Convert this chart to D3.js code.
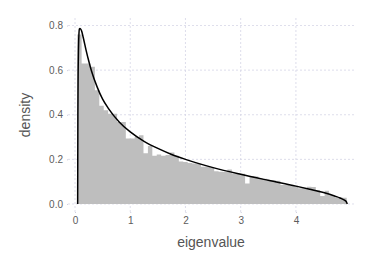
<!DOCTYPE html>
<html>
<head>
<meta charset="utf-8">
<script src="https://cdn.jsdelivr.net/npm/d3@7"></script>
<style>
  body { margin: 0; background: #fff; }
  text { font-family: Helvetica, Arial, "Liberation Sans", sans-serif; }
</style>
</head>
<body>
<svg id="chart"></svg>
<script>
// histogram of eigenvalues: bins of width 0.08 starting at 0.04
var binStart = 0.04,
	binWidth = 0.08;
var binDensity = [
	0.76, 0.63, 0.63, 0.615, 0.51, 0.44, 0.42, 0.405, 0.405, 0.368,
	0.368, 0.294, 0.294, 0.30, 0.308, 0.227, 0.26, 0.216, 0.222, 0.216,
	0.22, 0.231, 0.216, 0.19, 0.188, 0.184, 0.182, 0.18, 0.167, 0.167,
	0.165, 0.147, 0.145, 0.143, 0.155, 0.137, 0.137, 0.135, 0.092, 0.125,
	0.123, 0.115, 0.113, 0.107, 0.106, 0.104, 0.085, 0.085, 0.083, 0.082,
	0.07, 0.07, 0.077, 0.076, 0.063, 0.036, 0.059, 0.04, 0.033, 0.03,
	0.028
];

// theoretical density curve
var curveX = [0.048, 0.052, 0.056, 0.062, 0.07, 0.08, 0.09, 0.1, 0.12, 0.15,
	0.2, 0.25, 0.3, 0.4, 0.5, 0.6, 0.8, 1.0, 1.25, 1.5,
	1.75, 2.0, 2.5, 3.0, 3.5, 4.0, 4.25, 4.5, 4.7, 4.8,
	4.88, 4.91, 4.93];
var curveY = [0, 0.40, 0.57, 0.68, 0.755, 0.785, 0.787, 0.785, 0.775, 0.745,
	0.69, 0.64, 0.595, 0.525, 0.47, 0.43, 0.368, 0.323, 0.281, 0.249,
	0.222, 0.2, 0.163, 0.133, 0.106, 0.080, 0.066, 0.051, 0.036, 0.027,
	0.017, 0.011, 0];

var xTicks = [0, 1, 2, 3, 4],
	yTicks = [0, 0.2, 0.4, 0.6, 0.8];

var width = 374,
	height = 280;
var svg = d3.select("#chart")
	.attr("width", width)
	.attr("height", height);

var x = d3.scaleLinear().domain([-0.127, 5.07]).range([68, 355]);
var y = d3.scaleLinear().domain([-0.036, 0.836]).range([212, 17.5]);

var grid = svg.append("g")
	.attr("stroke", "#d6d6e6")
	.attr("stroke-width", 0.8)
	.attr("stroke-dasharray", "2,2");
grid.selectAll(".vgrid")
	.data(xTicks)
	.enter().append("line")
	.attr("x1", function (d) { return x(d); })
	.attr("x2", function (d) { return x(d); })
	.attr("y1", y.range()[0])
	.attr("y2", y.range()[1]);
grid.selectAll(".hgrid")
	.data(yTicks)
	.enter().append("line")
	.attr("y1", function (d) { return y(d); })
	.attr("y2", function (d) { return y(d); })
	.attr("x1", x.range()[0])
	.attr("x2", x.range()[1]);

// bars drawn as one stepped area so no seams show between bins
var steps = [];
binDensity.forEach(function (d, i) {
	steps.push([binStart + i * binWidth, d]);
});
steps.push([binStart + binDensity.length * binWidth, 0]);
var histArea = d3.area()
	.x(function (d) { return x(d[0]); })
	.y0(y(0))
	.y1(function (d) { return y(d[1]); })
	.curve(d3.curveStepAfter);
svg.append("path")
	.datum(steps)
	.attr("d", histArea)
	.attr("fill", "#bebebe");

var line = d3.line()
	.x(function (d) { return x(d[0]); })
	.y(function (d) { return y(d[1]); })
	.curve(d3.curveMonotoneX);
svg.append("path")
	.datum(d3.zip(curveX, curveY))
	.attr("d", line)
	.attr("fill", "none")
	.attr("stroke", "#000")
	.attr("stroke-width", 1.5);

// axes: labels only, tiny ticks
var xAxis = svg.append("g")
	.attr("transform", "translate(0," + y.range()[0] + ")")
	.call(d3.axisBottom(x).tickValues(xTicks).tickSize(2).tickPadding(3).tickFormat(d3.format("d")));
var yAxis = svg.append("g")
	.attr("transform", "translate(" + x.range()[0] + ",0)")
	.call(d3.axisLeft(y).tickValues(yTicks).tickSize(2).tickPadding(3).tickFormat(d3.format(".1f")));
[xAxis, yAxis].forEach(function (a) {
	a.select(".domain").remove();
	a.selectAll(".tick line").attr("stroke", "#cfcfdc").attr("stroke-dasharray", "1,1");
	a.selectAll("text")
		.attr("fill", "#5c5c5c")
		.style("font-size", "10px")
		.style("font-family", "Helvetica, Arial, 'Liberation Sans', sans-serif");
});

svg.append("text")
	.attr("x", 211)
	.attr("y", 247)
	.attr("text-anchor", "middle")
	.attr("fill", "#555")
	.style("font-size", "14px")
	.text("eigenvalue");
svg.append("text")
	.attr("transform", "translate(30,115) rotate(-90)")
	.attr("text-anchor", "middle")
	.attr("fill", "#555")
	.style("font-size", "14px")
	.text("density");
</script>
</body>
</html>
